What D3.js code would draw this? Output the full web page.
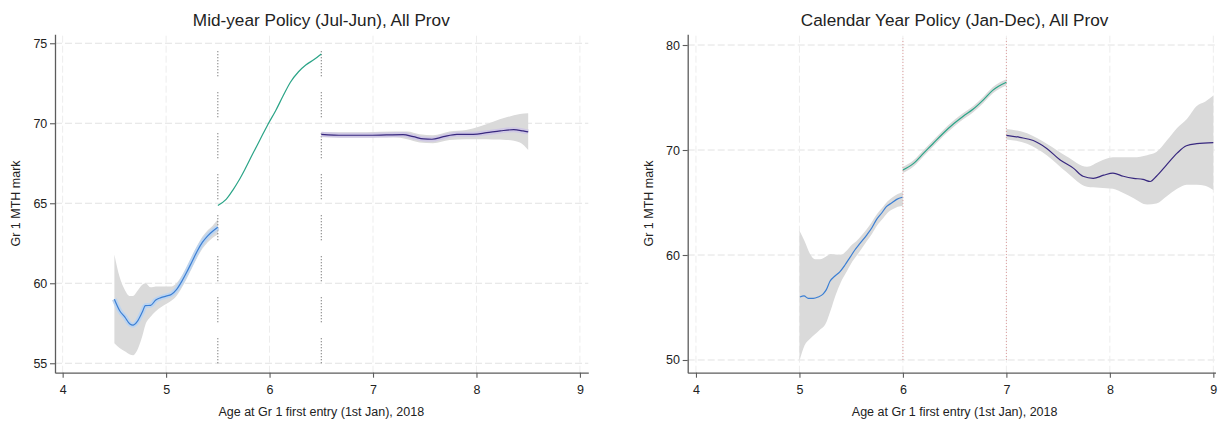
<!DOCTYPE html>
<html>
<head>
<meta charset="utf-8">
<script src="https://cdn.jsdelivr.net/npm/d3@7"></script>
<style>
  body { margin: 0; background: #fff; }
  text { font-family: Arial, "Liberation Sans", sans-serif; fill: #222; }
</style>
</head>
<body>
<svg id="chart" width="1219" height="423"></svg>
<script>
// ---- Axis ticks ----
const ageTicks = [4, 5, 6, 7, 8, 9];
const midMarkTicks = [55, 60, 65, 70, 75];
const calMarkTicks = [50, 60, 70, 80];

// ---- Mid-year policy (Jul-Jun) ----
const midBlueAge  = [4.5, 4.55, 4.6, 4.65, 4.68, 4.72, 4.77, 4.8, 4.85, 4.9, 4.95, 5.0, 5.05, 5.1, 5.15, 5.2, 5.25, 5.3, 5.35, 5.4, 5.45, 5.5];
const midBlueMark = [59.0, 58.3, 57.9, 57.45, 57.38, 57.6, 58.2, 58.6, 58.62, 58.95, 59.1, 59.2, 59.3, 59.6, 60.1, 60.7, 61.35, 62.0, 62.55, 62.95, 63.25, 63.5];
const midBlueHi   = [61.8, 60.4, 59.6, 59.2, 59.2, 59.5, 59.9, 60.0, 59.75, 59.8, 59.8, 59.8, 59.8, 60.0, 60.45, 61.05, 61.7, 62.35, 62.9, 63.3, 63.6, 64.0];
const midBlueLo   = [56.25, 55.95, 55.75, 55.55, 55.5, 55.8, 56.7, 57.4, 57.9, 58.25, 58.5, 58.7, 58.9, 59.2, 59.7, 60.3, 60.95, 61.6, 62.15, 62.55, 62.85, 63.05];

const midGreenAge  = [5.5, 5.58, 5.65, 5.7, 5.76, 5.835, 5.91, 5.98, 6.06, 6.13, 6.2, 6.28, 6.35, 6.43, 6.5];
const midGreenMark = [64.86, 65.24, 65.87, 66.39, 67.1, 68.06, 69.0, 69.88, 70.8, 71.7, 72.55, 73.22, 73.64, 73.98, 74.33];

const midPurpleAge  = [6.5, 6.71, 6.94, 7.13, 7.29, 7.39, 7.49, 7.57, 7.68, 7.81, 7.97, 8.1, 8.23, 8.36, 8.45, 8.5];
const midPurpleMark = [69.31, 69.25, 69.25, 69.27, 69.29, 69.16, 69.02, 69.0, 69.16, 69.31, 69.31, 69.41, 69.52, 69.6, 69.52, 69.46];
const midPurpleBandAge = [6.5, 6.94, 7.2, 7.33, 7.45, 7.58, 7.74, 7.9, 8.03, 8.16, 8.29, 8.42, 8.5];
const midPurpleHi      = [69.44, 69.44, 69.48, 69.48, 69.31, 69.25, 69.48, 69.58, 69.79, 70.1, 70.37, 70.58, 70.62];
const midPurpleLo      = [69.12, 69.12, 69.12, 69.0, 68.8, 68.75, 68.95, 69.0, 69.0, 68.98, 68.96, 68.8, 68.33];

const midCutoffs = [5.5, 6.5];

// ---- Calendar year policy (Jan-Dec) ----
const calBlueAge  = [5.005, 5.044, 5.085, 5.134, 5.18, 5.23, 5.26, 5.295, 5.343, 5.39, 5.44, 5.49, 5.537, 5.585, 5.65, 5.7, 5.746, 5.795, 5.84, 5.89, 5.94, 5.995];
const calBlueMark = [56.0, 56.1, 55.87, 55.87, 56.0, 56.3, 56.7, 57.5, 58.0, 58.4, 59.05, 59.8, 60.5, 61.1, 61.9, 62.6, 63.4, 64.0, 64.6, 64.95, 65.3, 65.5];
const calBlueBandAge = [5.0, 5.05, 5.1, 5.15, 5.2, 5.25, 5.3, 5.35, 5.4, 5.45, 5.5, 5.55, 5.6, 5.65, 5.7, 5.75, 5.8, 5.85, 5.9, 5.95, 6.0];
const calBlueHi      = [62.3, 61.3, 60.15, 59.6, 59.6, 59.8, 60.1, 60.05, 60.0, 60.35, 60.9, 61.3, 61.85, 62.45, 63.15, 63.9, 64.5, 65.1, 65.5, 65.8, 66.0];
const calBlueLo      = [49.9, 51.4, 52.0, 52.45, 52.9, 53.4, 54.7, 56.2, 57.4, 58.3, 59.2, 59.9, 60.6, 61.3, 62.0, 62.8, 63.4, 64.0, 64.35, 64.6, 64.7];

const calGreenAge  = [6.0, 6.1, 6.2, 6.29, 6.39, 6.49, 6.58, 6.68, 6.78, 6.87, 7.0];
const calGreenMark = [68.1, 68.7, 69.7, 70.6, 71.6, 72.5, 73.2, 73.9, 74.8, 75.7, 76.45];
const calGreenHi   = [68.4, 69.0, 70.0, 70.9, 71.9, 72.8, 73.5, 74.2, 75.1, 76.0, 76.75];
const calGreenLo   = [67.8, 68.4, 69.4, 70.3, 71.3, 72.2, 72.9, 73.6, 74.5, 75.4, 76.15];

const calPurpleAge  = [7.0, 7.13, 7.26, 7.39, 7.52, 7.65, 7.74, 7.84, 7.94, 8.03, 8.13, 8.23, 8.32, 8.39, 8.45, 8.55, 8.65, 8.74, 8.84, 9.0];
const calPurpleMark = [71.4, 71.2, 70.9, 70.15, 69.05, 68.25, 67.5, 67.3, 67.6, 67.8, 67.5, 67.3, 67.2, 67.0, 67.5, 68.6, 69.7, 70.4, 70.6, 70.7];
const calPurpleBandAge = [7.0, 7.2, 7.39, 7.58, 7.78, 7.9, 8.03, 8.13, 8.23, 8.36, 8.45, 8.55, 8.65, 8.74, 8.84, 8.92, 9.0];
const calPurpleHi      = [72.0, 71.6, 70.6, 69.4, 68.4, 68.9, 69.3, 69.3, 69.3, 69.5, 69.8, 70.9, 72.1, 72.9, 74.2, 74.6, 75.2];
const calPurpleLo      = [71.0, 70.6, 69.5, 67.9, 66.5, 66.4, 66.3, 65.9, 65.4, 64.8, 64.9, 65.6, 66.3, 66.7, 66.7, 66.6, 66.2];

const calCutoffs = [6, 7];

// ---- Colours ----
const colBlue = "#3b7fd4", colGreen = "#2aa487", colPurple = "#38287f";
const colBand = "#dadada";

const svg = d3.select("#chart");

function drawPanel(p) {
  const x = d3.scaleLinear().domain(p.xDomain).range(p.xRange);
  const y = d3.scaleLinear().domain(p.yDomain).range(p.yRange);
  const g = svg.append("g");

  // dashed grid
  g.append("g").selectAll("line").data(p.yTicks).join("line")
    .attr("x1", p.xRange[0]).attr("x2", p.xRange[1])
    .attr("y1", d => y(d)).attr("y2", d => y(d))
    .attr("stroke", "#e2e2e2").attr("stroke-width", 1).attr("stroke-dasharray", "7,3");
  g.append("g").selectAll("line").data(ageTicks).join("line")
    .attr("x1", d => x(d)).attr("x2", d => x(d))
    .attr("y1", p.yRange[0]).attr("y2", p.yRange[1])
    .attr("stroke", "#ededed").attr("stroke-width", 1).attr("stroke-dasharray", "7,3");

  // confidence bands
  p.bands.forEach(b => {
    const area = d3.area()
      .x(i => x(b.age[i])).y0(i => y(b.lo[i])).y1(i => y(b.hi[i]))
      .curve(d3.curveMonotoneX);
    g.append("path").datum(d3.range(b.age.length)).attr("d", area)
      .attr("fill", colBand);
  });

  // cutoff lines
  g.append("g").selectAll("line").data(p.cutoffs).join("line")
    .attr("x1", d => x(d)).attr("x2", d => x(d))
    .attr("y1", y(p.cutoffSpan[0])).attr("y2", y(p.cutoffSpan[1]))
    .attr("stroke", p.cutoffColor).attr("stroke-width", 1)
    .attr("stroke-dasharray", p.cutoffDash);

  // fitted lines
  p.lines.forEach(s => {
    const line = d3.line()
      .x(i => x(s.age[i])).y(i => y(s.mark[i]))
      .curve(d3.curveMonotoneX);
    const idx = d3.range(s.age.length);
    if (s.halo) {
      g.append("path").datum(idx).attr("d", line)
        .attr("fill", "none").attr("stroke", s.halo).attr("stroke-width", 5)
        .attr("stroke-linejoin", "round");
    }
    g.append("path").datum(idx).attr("d", line)
      .attr("fill", "none").attr("stroke", s.color).attr("stroke-width", 1.2)
      .attr("stroke-linejoin", "round");
  });

  // axes
  const axisColor = "#5c5c5c";
  const xa = g.append("g").attr("transform", `translate(0,${p.yRange[0]})`)
    .call(d3.axisBottom(x).tickValues(ageTicks).tickFormat(d3.format("d"))
      .tickSize(5).tickSizeOuter(0).tickPadding(7.8));
  const ya = g.append("g").attr("transform", `translate(${p.xRange[0]},0)`)
    .call(d3.axisLeft(y).tickValues(p.yTicks).tickFormat(d3.format("d"))
      .tickSize(5).tickSizeOuter(0).tickPadding(2.7));
  [xa, ya].forEach(a => {
    a.select(".domain").attr("stroke", axisColor).attr("stroke-width", 1.3);
    a.selectAll(".tick line").attr("stroke", axisColor).attr("stroke-width", 1.1);
    a.selectAll(".tick text").attr("font-size", 12.5).attr("fill", "#222")
      .style("font-family", "Arial, 'Liberation Sans', sans-serif");
  });

  // titles
  const cx = x(6.5);
  g.append("text").attr("x", cx).attr("y", 25.5).attr("text-anchor", "middle")
    .attr("font-size", 17.2).text(p.title);
  g.append("text").attr("x", cx).attr("y", 416).attr("text-anchor", "middle")
    .attr("font-size", 12.5).text("Age at Gr 1 first entry (1st Jan), 2018");
  const ty = (p.yRange[0] + p.yRange[1]) / 2;
  g.append("text")
    .attr("transform", `translate(${p.xRange[0] - 35},${ty}) rotate(-90)`)
    .attr("text-anchor", "middle").attr("font-size", 12.5).text("Gr 1 MTH mark");
}

const groupDots = "1,2,1,2,1,2,1,2,1,2,1,2,1,2,1,2,1,16";

drawPanel({
  title: "Mid-year Policy (Jul-Jun), All Prov",
  xDomain: [3.926, 9.081], xRange: [55, 588.3],
  yDomain: [54.41, 75.56], yRange: [372.7, 34.3],
  yTicks: midMarkTicks,
  cutoffs: midCutoffs, cutoffSpan: [55, 74.65], cutoffColor: "#555555", cutoffDash: groupDots,
  bands: [
    { age: midBlueAge, lo: midBlueLo, hi: midBlueHi },
    { age: midPurpleBandAge, lo: midPurpleLo, hi: midPurpleHi }
  ],
  lines: [
    { age: midBlueAge, mark: midBlueMark, color: colBlue, halo: "#bcd4f0" },
    { age: midGreenAge, mark: midGreenMark, color: colGreen },
    { age: midPurpleAge, mark: midPurpleMark, color: colPurple, halo: "#cfc8e4" }
  ]
});

drawPanel({
  title: "Calendar Year Policy (Jan-Dec), All Prov",
  xDomain: [3.92, 9.021], xRange: [687.7, 1215.5],
  yDomain: [48.79, 81.02], yRange: [372.7, 34.3],
  yTicks: calMarkTicks,
  cutoffs: calCutoffs, cutoffSpan: [50, 80.6], cutoffColor: "#dc9c9c", cutoffDash: "1,2",
  bands: [
    { age: calBlueBandAge, lo: calBlueLo, hi: calBlueHi },
    { age: calGreenAge, lo: calGreenLo, hi: calGreenHi },
    { age: calPurpleBandAge, lo: calPurpleLo, hi: calPurpleHi }
  ],
  lines: [
    { age: calBlueAge, mark: calBlueMark, color: colBlue },
    { age: calGreenAge, mark: calGreenMark, color: colGreen },
    { age: calPurpleAge, mark: calPurpleMark, color: colPurple }
  ]
});
</script>
</body>
</html>
